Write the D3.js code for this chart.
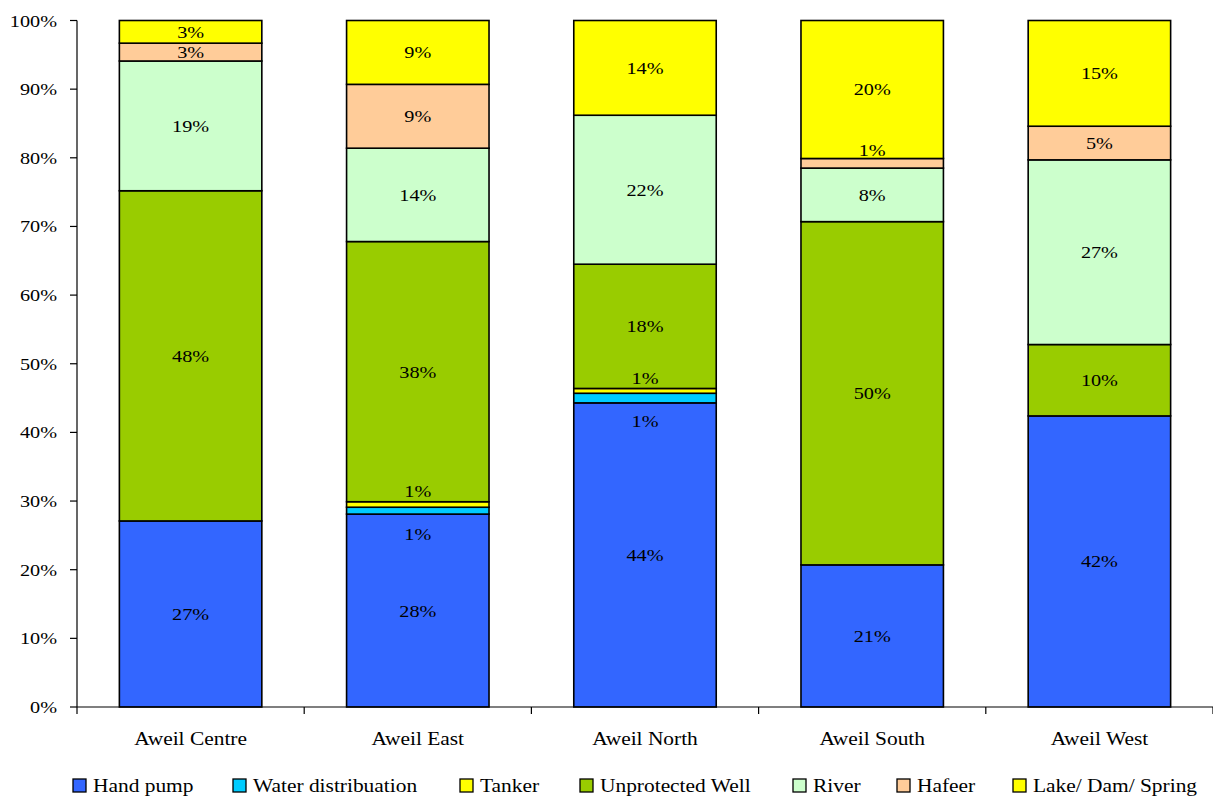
<!DOCTYPE html>
<html>
<head>
<meta charset="utf-8">
<script src="https://cdn.jsdelivr.net/npm/d3@7"></script>
<style>
  html, body { margin: 0; padding: 0; background: #fff; }
</style>
</head>
<body>
<svg id="chart" width="1213" height="797"></svg>
<script>
// Water source shares per county (percent)
const counties = ["Aweil Centre", "Aweil East", "Aweil North", "Aweil South", "Aweil West"];
const seriesNames = ["Hand pump", "Water distribuation", "Tanker", "Unprotected Well", "River", "Hafeer", "Lake/ Dam/ Spring"];
const handPump      = [27.1, 28.1, 44.3, 20.7, 42.4];
const waterDist     = [0,    1.0,  1.4,  0,    0];
const tanker        = [0,    0.8,  0.7,  0,    0];
const unprotected   = [48.1, 37.9, 18.1, 50.0, 10.4];
const river         = [18.9, 13.6, 21.7, 7.8,  26.9];
const hafeer        = [2.6,  9.3,  0,    1.4,  4.9];
const lakeDamSpring = [3.3,  9.3,  13.8, 20.1, 15.4];
const yTicks = [0, 0.1, 0.2, 0.3, 0.4, 0.5, 0.6, 0.7, 0.8, 0.9, 1.0];

const seriesValues = [handPump, waterDist, tanker, unprotected, river, hafeer, lakeDamSpring];
const colors = ["#3366FF", "#00CCFF", "#FFFF00", "#99CC00", "#CCFFCC", "#FFCC99", "#FFFF00"];

const FONT = "'Liberation Serif', 'Times New Roman', 'DejaVu Serif', serif";
const svg = d3.select("#chart");
const margin = { left: 77, right: 0, top: 20.5, bottom: 90 };
const W = 1213;
const plotBottom = 707;

// table for the stack layout
const rows = counties.map((c, i) => {
  const r = { county: c };
  seriesNames.forEach((s, j) => r[s] = seriesValues[j][i]);
  return r;
});
const stacked = d3.stack().keys(seriesNames).offset(d3.stackOffsetExpand)(rows);

const x = d3.scaleBand().domain(counties).range([margin.left, W - margin.right])
  .paddingInner(0.373).paddingOuter(0.1865);
const y = d3.scaleLinear().domain([0, 1]).range([plotBottom, margin.top]);

const SX = 1.19; // horizontal text stretch
function stretchedText(g, tx, ty, str, size, anchor) {
  return g.append("text")
    .attr("transform", `translate(${tx},${ty}) scale(${SX},1)`)
    .attr("font-family", FONT)
    .attr("font-size", size)
    .attr("fill", "#000")
    .attr("text-anchor", anchor || "middle")
    .text(str);
}

// bars
const layers = svg.append("g").selectAll("g").data(stacked).join("g")
  .attr("fill", (d, i) => colors[i]);
layers.selectAll("rect")
  .data(d => d.filter(p => p[1] - p[0] > 0).map(p => ({ p, key: d.key })))
  .join("rect")
  .attr("x", d => x(d.p.data.county))
  .attr("width", x.bandwidth())
  .attr("y", d => y(d.p[1]))
  .attr("height", d => y(d.p[0]) - y(d.p[1]))
  .attr("stroke", "#000")
  .attr("stroke-width", 1.6);

// data labels
const lblG = svg.append("g");
stacked.forEach((layer, si) => {
  layer.forEach((p, ci) => {
    const v = seriesValues[si][ci];
    if (v <= 0) return;
    let cy = (y(p[0]) + y(p[1])) / 2;
    if (v < 2) cy += (seriesNames[si] === "Water distribuation") ? 23 : -13;
    stretchedText(lblG, x(p.data.county) + x.bandwidth() / 2, cy + 6, d3.format(".0f")(v) + "%", 17);
  });
});

// y axis
const ax = svg.append("g").attr("stroke", "#000").attr("stroke-width", 1.2);
ax.append("line").attr("x1", margin.left).attr("x2", margin.left)
  .attr("y1", y(1)).attr("y2", plotBottom + 7);
yTicks.forEach(t => {
  ax.append("line").attr("x1", margin.left - 7).attr("x2", margin.left)
    .attr("y1", y(t)).attr("y2", y(t));
  stretchedText(svg, 57, y(t) + 6, d3.format(".0%")(t), 17, "end");
});

// x axis
ax.append("line").attr("x1", margin.left).attr("x2", W)
  .attr("y1", plotBottom).attr("y2", plotBottom);
const step = x.step();
counties.forEach((c, i) => {
  const bx = margin.left + step * (i + 1);
  ax.append("line").attr("x1", bx).attr("x2", bx).attr("y1", plotBottom).attr("y2", plotBottom + 7);
  stretchedText(svg, x(c) + x.bandwidth() / 2, 745, c, 18);
});

// legend
const legendX = [73, 233, 460, 580, 793, 897, 1013];
const lg = svg.append("g");
seriesNames.forEach((s, i) => {
  lg.append("rect").attr("x", legendX[i]).attr("y", 779).attr("width", 13).attr("height", 13)
    .attr("fill", colors[i]).attr("stroke", "#000").attr("stroke-width", 1.3);
  stretchedText(lg, legendX[i] + 20, 792, s, 18, "start");
});
</script>
</body>
</html>
